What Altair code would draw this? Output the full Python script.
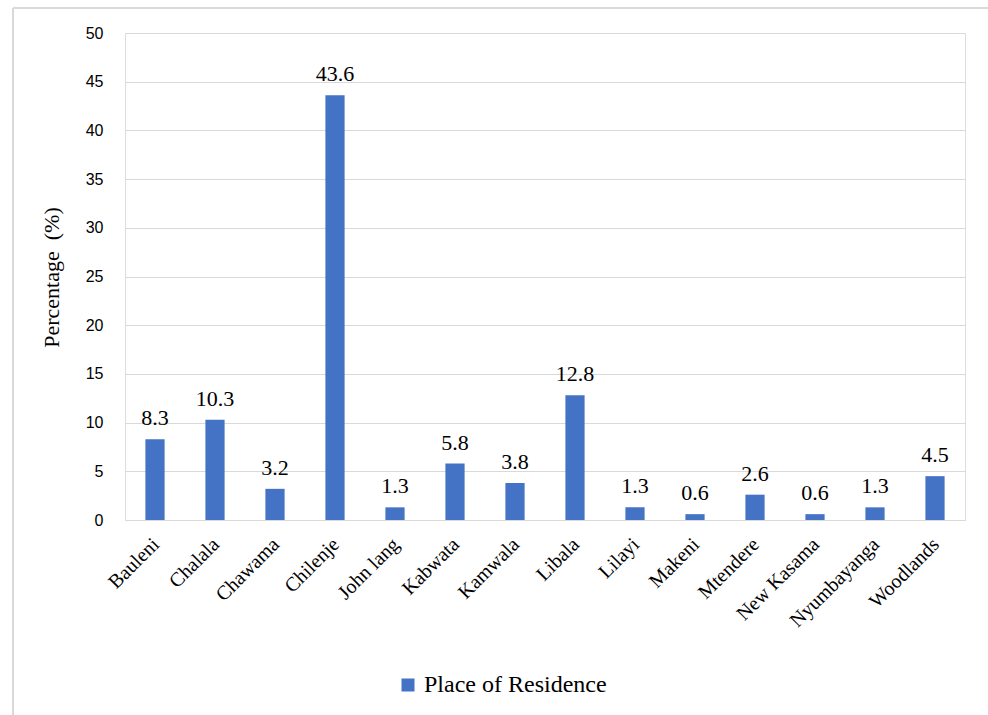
import altair as alt
import pandas as pd

places = ["Bauleni", "Chalala", "Chawama", "Chilenje", "John lang", "Kabwata", "Kamwala",
          "Libala", "Lilayi", "Makeni", "Mtendere", "New Kasama", "Nyumbayanga", "Woodlands"]
values = [8.3, 10.3, 3.2, 43.6, 1.3, 5.8, 3.8, 12.8, 1.3, 0.6, 2.6, 0.6, 1.3, 4.5]
series_name = "Place of Residence"
y_ticks = [0, 5, 10, 15, 20, 25, 30, 35, 40, 45, 50]

df = pd.DataFrame({"place": places, "value": values, "series": series_name})
df["label"] = df["value"].map(lambda v: f"{v:.1f}")

BLUE = "#4472C4"
SERIF = "Liberation Serif, Times New Roman, serif"
SANS = "Liberation Sans, Arial, sans-serif"

x = alt.X("place:N", sort=places, title=None,
          scale=alt.Scale(paddingInner=0.68, paddingOuter=0.34),
          axis=alt.Axis(labelAngle=-45, labelAlign="right", labelBaseline="top",
                        labelFont=SERIF, labelFontSize=20, labelColor="#000000",
                        labelPadding=14, ticks=False, domain=True, domainColor="#d9d9d9",
                        labelOffset=-6, labelLimit=0))
y = alt.Y("value:Q", title="Percentage\u00a0\u00a0(%)",
          scale=alt.Scale(domain=[0, 50]),
          axis=alt.Axis(values=y_ticks, grid=True, gridColor="#d9d9d9", domain=False,
                        ticks=False, labelFont=SANS, labelFontSize=16, labelColor="#000000",
                        labelPadding=22, titleFont=SERIF, titleFontSize=22,
                        titleFontWeight="normal", titleColor="#000000",
                        titleX=-62, titleY=244, titleAngle=-90))

bars = alt.Chart(df).mark_bar(color=BLUE).encode(
    x=x, y=y,
    color=alt.Color("series:N", scale=alt.Scale(range=[BLUE]),
                    legend=alt.Legend(title=None, orient="none", legendX=271, legendY=640,
                                      symbolType="square", symbolSize=169,
                                      labelFont=SERIF, labelFontSize=24, labelColor="#000000",
                                      symbolStrokeWidth=0, labelOffset=4, labelLimit=0)),
)

labels = alt.Chart(df).mark_text(font=SERIF, fontSize=22, color="#000000", dy=-14,
                                  baseline="alphabetic").encode(
    x=alt.X("place:N", sort=places), y="value:Q", text="label:N")

border_left = alt.Chart(df).mark_rule(color="#d9d9d9", strokeWidth=1.5).encode(
    x=alt.value(-112), y=alt.value(-25), y2=alt.value(700))
border_top = alt.Chart(df).mark_rule(color="#d9d9d9", strokeWidth=1.5).encode(
    x=alt.value(-112), x2=alt.value(880), y=alt.value(-25))

chart = alt.layer(bars, labels, border_left, border_top).properties(
    width=840, height=487,
    autosize=alt.AutoSizeParams(type="none"),
    padding={"left": 125, "top": 33, "right": 23, "bottom": 195},
).configure_view(stroke=None).configure(background="white")

chart.save("out.html", embed_options={"renderer": "svg", "actions": False})
